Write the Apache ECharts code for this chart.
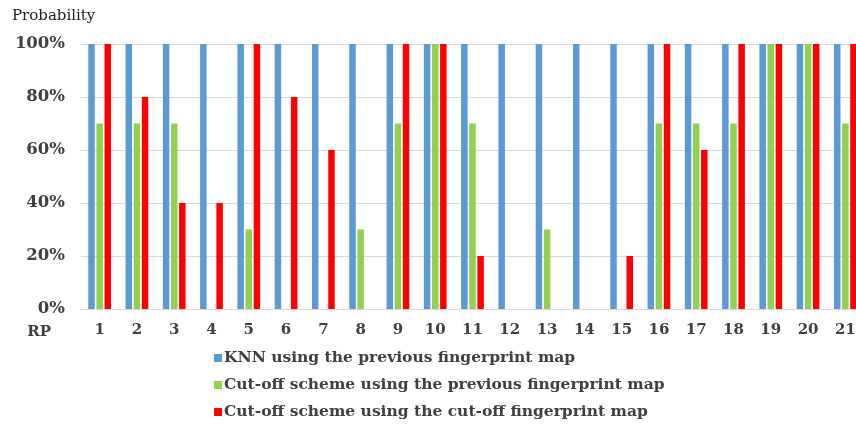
<!DOCTYPE html>
<html>
<head>
<meta charset="utf-8">
<script src="https://cdn.jsdelivr.net/npm/echarts@6/dist/echarts.min.js"></script>
<style>
  html, body { margin: 0; padding: 0; background: #fff; }
  #chart { width: 856px; height: 431px; }
</style>
</head>
<body>
<div id="chart"></div>
<script>
// RP 1..21
var categories = ['1', '2', '3', '4', '5', '6', '7', '8', '9', '10', '11', '12', '13', '14', '15', '16', '17', '18', '19', '20', '21'];
var seriesNames = [
  'KNN using the previous fingerprint map',
  'Cut-off scheme using the previous fingerprint map',
  'Cut-off scheme using the cut-off fingerprint map'
];
var knnPrev = [100, 100, 100, 100, 100, 100, 100, 100, 100, 100, 100, 100, 100, 100, 100, 100, 100, 100, 100, 100, 100];
var cutoffPrev = [70, 70, 70, 0, 30, 0, 0, 30, 70, 100, 70, 0, 30, 0, 0, 70, 70, 70, 100, 100, 70];
var cutoffCut = [100, 80, 40, 40, 100, 80, 60, 0, 100, 100, 20, 0, 0, 0, 20, 100, 60, 100, 100, 100, 100];
var yTicks = [0, 20, 40, 60, 80, 100];

var serif = 'DejaVu Serif';
var textColor = '#404040';

var chart = echarts.init(document.getElementById('chart'));

function bar(name, data, color) {
  return {
    name: name,
    type: 'bar',
    data: data,
    barWidth: 6.5,
    barGap: '25%',
    itemStyle: { color: color },
    animation: false
  };
}

chart.setOption({
  backgroundColor: '#ffffff',
  title: {
    text: 'Probability',
    left: 7,
    top: 4,
    textStyle: { fontFamily: serif, fontSize: 15, fontWeight: 'normal', color: '#222' }
  },
  legend: {
    orient: 'vertical',
    left: 209,
    top: 345,
    itemWidth: 8,
    itemHeight: 8,
    itemGap: 11,
    icon: 'rect',
    data: seriesNames,
    textStyle: { fontFamily: serif, fontSize: 15.5, fontWeight: 'bold', color: textColor, padding: [0, 0, 0, -3] }
  },
  grid: {
    left: 81,
    width: 783,
    top: 44,
    bottom: 122,
    outerBoundsMode: 'none'
  },
  xAxis: {
    type: 'category',
    data: categories,
    name: 'RP',
    nameLocation: 'start',
    nameGap: 30,
    nameTextStyle: {
      fontFamily: serif, fontSize: 15, fontWeight: 'bold', color: textColor,
      verticalAlign: 'top', padding: [16, 0, 0, 0]
    },
    axisLine: { show: true, lineStyle: { color: '#d9d9d9', width: 1 } },
    axisTick: { show: false },
    axisLabel: {
      margin: 14,
      fontFamily: serif, fontSize: 15, fontWeight: 'bold', color: textColor
    }
  },
  yAxis: {
    type: 'value',
    min: yTicks[0],
    max: yTicks[yTicks.length - 1],
    interval: 20,
    axisLine: { show: false },
    axisTick: { show: false },
    splitLine: { lineStyle: { color: '#d9d9d9', width: 1 } },
    axisLabel: {
      margin: 16,
      fontFamily: serif, fontSize: 16.5, fontWeight: 'bold', color: textColor,
      formatter: '{value}%'
    }
  },
  series: [
    bar(seriesNames[0], knnPrev, '#5b9bd5'),
    bar(seriesNames[1], cutoffPrev, '#92d050'),
    bar(seriesNames[2], cutoffCut, '#ff0000')
  ]
});
</script>
</body>
</html>
